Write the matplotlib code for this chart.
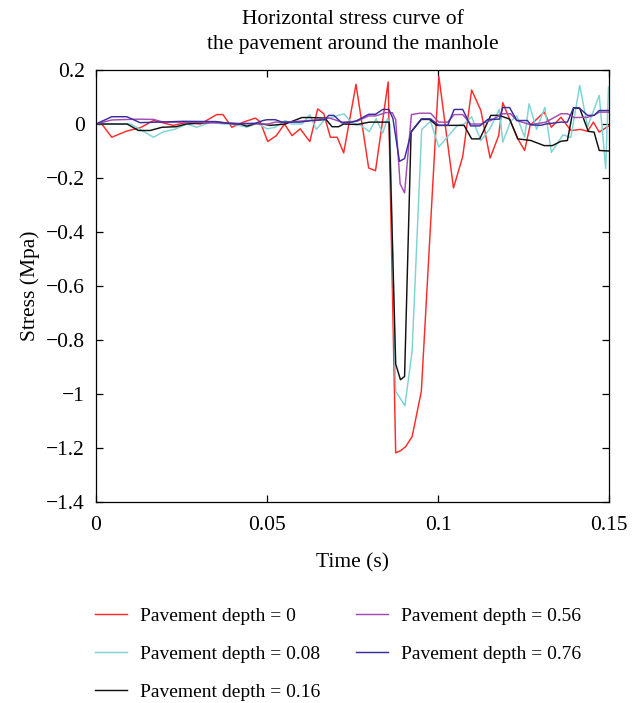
import matplotlib
matplotlib.use("Agg")
import matplotlib.pyplot as plt
from matplotlib.ticker import FuncFormatter

# ---- data (time in s, stress in MPa) ----
t_d0 = [0, 0.0017, 0.0046, 0.009, 0.0129, 0.0168, 0.0225, 0.0266, 0.0305, 0.0353,
        0.0371, 0.0397, 0.0431, 0.0466, 0.048, 0.0502, 0.0527, 0.0551, 0.0573, 0.0597,
        0.0625, 0.0648, 0.0666, 0.0685, 0.0705, 0.0724, 0.076, 0.0797, 0.0817, 0.0854,
        0.0876, 0.089, 0.0905, 0.0924, 0.0951, 0.1002, 0.1045, 0.1072, 0.1098, 0.1125,
        0.1152, 0.1177, 0.1189, 0.1233, 0.1253, 0.1269, 0.131, 0.1331, 0.1359, 0.1388,
        0.1417, 0.1437, 0.1454, 0.1471, 0.15]
s_d0 = [0, 0, -0.049, -0.026, -0.014, 0.013, -0.005, 0.006, 0.0, 0.035,
        0.035, -0.012, 0.007, 0.022, 0.008, -0.065, -0.043, 0.0, -0.043, -0.018,
        -0.065, 0.056, 0.038, -0.049, -0.049, -0.107, 0.147, -0.163, -0.173, 0.156,
        -1.218, -1.21, -1.195, -1.158, -0.99, 0.178, -0.237, -0.12, 0.126, 0.05,
        -0.126, -0.043, 0.079, -0.055, -0.098, -0.005, 0.044, -0.012, 0.025, -0.024,
        -0.02, -0.027, 0.007, -0.03, -0.006]

t_d008 = [0, 0.0102, 0.0168, 0.0197, 0.0231, 0.0266, 0.0294, 0.0334, 0.0373, 0.0401,
          0.0441, 0.0471, 0.05, 0.0524, 0.0553, 0.0573, 0.0602, 0.0625, 0.0644, 0.0669,
          0.0725, 0.0746, 0.0773, 0.0799, 0.0819, 0.0838, 0.0852, 0.0859, 0.0876, 0.0903,
          0.0924, 0.0952, 0.0978, 0.1002, 0.1056, 0.1076, 0.1098, 0.1125, 0.1152, 0.1179,
          0.1189, 0.1212, 0.123, 0.1253, 0.1266, 0.1288, 0.1312, 0.1331, 0.1365, 0.1388,
          0.1414, 0.1437, 0.1471, 0.149, 0.1498]
s_d008 = [0, 0, -0.049, -0.029, -0.019, 0.0, -0.012, 0.006, 0.0, 0.0,
          -0.012, 0.003, -0.018, -0.012, 0.013, 0.0, 0.0, 0.034, -0.02, 0.017,
          0.038, 0.007, -0.005, -0.028, 0.019, -0.034, 0.02, 0.0, -0.99, -1.043,
          -0.842, -0.02, 0.01, -0.085, -0.006, 0.0, 0.027, -0.062, -0.016, 0.055,
          -0.067, 0.01, 0.03, -0.049, 0.075, -0.02, 0.062, -0.105, -0.04, -0.05,
          0.143, -0.01, 0.106, -0.165, 0.137]

t_d016 = [0, 0.0091, 0.0124, 0.0158, 0.0193, 0.0234, 0.0264, 0.0351, 0.0422, 0.0441,
          0.0471, 0.051, 0.0553, 0.0602, 0.0625, 0.0669, 0.069, 0.0709, 0.0724, 0.0763,
          0.0799, 0.0857, 0.0876, 0.089, 0.0902, 0.0921, 0.0951, 0.0975, 0.0996, 0.1076,
          0.1098, 0.1122, 0.1154, 0.1179, 0.1209, 0.1233, 0.1271, 0.131, 0.1334, 0.1359,
          0.1378, 0.1396, 0.1414, 0.1439, 0.1456, 0.1471, 0.15]
s_d016 = [0, 0, -0.024, -0.024, -0.012, -0.01, 0.0, 0.007, 0.0, -0.008,
          0.003, -0.005, 0.0, 0.024, 0.024, 0.022, -0.01, -0.01, 0.0, -0.002,
          0.007, 0.007, -0.889, -0.947, -0.935, -0.03, 0.017, 0.017, -0.005, -0.005,
          -0.055, -0.055, 0.032, 0.032, 0.018, -0.055, -0.061, -0.08, -0.08, -0.064,
          -0.061, 0.06, 0.058, -0.027, -0.03, -0.098, -0.1]

t_d056 = [0, 0.0046, 0.0124, 0.0168, 0.0197, 0.0255, 0.0401, 0.048, 0.0504, 0.0524,
          0.0556, 0.0656, 0.068, 0.0719, 0.0763, 0.0797, 0.0817, 0.0846, 0.0866, 0.0876,
          0.0889, 0.0902, 0.0922, 0.0946, 0.0978, 0.1002, 0.1028, 0.1047, 0.1072, 0.1095,
          0.1125, 0.1154, 0.1189, 0.1212, 0.123, 0.1271, 0.1315, 0.1359, 0.1378, 0.1398,
          0.1437, 0.1456, 0.1471, 0.15]
s_d056 = [0, 0.015, 0.018, 0.017, 0.007, 0.007, 0.003, 0.0, 0.0, 0.007,
          0.007, 0.016, 0.023, 0.007, 0.01, 0.03, 0.03, 0.042, 0.042, 0.016,
          -0.222, -0.255, 0.035, 0.04, 0.04, 0.007, 0.007, 0.035, 0.035, 0.0,
          0.0, 0.013, 0.038, 0.038, 0.013, -0.003, 0.007, 0.038, 0.038, 0.024,
          0.025, 0.033, 0.044, 0.044]

t_d076 = [0, 0.0046, 0.009, 0.0129, 0.0255, 0.0351, 0.0401, 0.0466, 0.0489, 0.05,
          0.0524, 0.0544, 0.0597, 0.0625, 0.0669, 0.068, 0.0695, 0.0719, 0.0748, 0.0763,
          0.0797, 0.0817, 0.0838, 0.0856, 0.0868, 0.0887, 0.0902, 0.0922, 0.0951, 0.0978,
          0.1002, 0.1028, 0.1047, 0.1072, 0.1095, 0.1122, 0.1145, 0.1179, 0.1189, 0.1209,
          0.123, 0.1261, 0.1271, 0.13, 0.1315, 0.1359, 0.1378, 0.1396, 0.1412, 0.1437,
          0.1456, 0.1471, 0.15]
s_d076 = [0, 0.027, 0.027, 0.005, 0.01, 0.009, 0.0, 0.003, 0.013, 0.016,
          0.016, 0.007, 0.007, 0.012, 0.016, 0.032, 0.032, 0.004, 0.007, 0.013,
          0.036, 0.036, 0.054, 0.054, 0.02, -0.138, -0.128, -0.027, 0.019, 0.019,
          -0.005, -0.005, 0.054, 0.054, -0.007, -0.007, 0.017, 0.018, 0.061, 0.061,
          0.013, 0.013, -0.003, -0.005, 0.0, 0.007, 0.007, 0.06, 0.06, 0.032,
          0.032, 0.05, 0.05]

labels = ["Pavement depth = 0", "Pavement depth = 0.08", "Pavement depth = 0.16",
          "Pavement depth = 0.56", "Pavement depth = 0.76"]
colors = ["#ff2a2a", "#7fd3d3", "#111111", "#a24bb3", "#3b2d9e"]

x_ticks = [0, 0.05, 0.1, 0.15]
y_ticks = [0.2, 0, -0.2, -0.4, -0.6, -0.8, -1.0, -1.2, -1.4]

# ---- figure ----
plt.rcParams['font.family'] = ['Liberation Serif', 'DejaVu Serif']
plt.rcParams['axes.unicode_minus'] = True

fig = plt.figure(figsize=(6.41, 7.03), dpi=100)
ax = fig.add_axes([0.1498, 0.2859, 0.8005, 0.6145])

series = [(t_d0, s_d0), (t_d008, s_d008), (t_d016, s_d016), (t_d056, s_d056), (t_d076, s_d076)]
for (t, s), c, lab in zip(series, colors, labels):
    ax.plot(t, s, color=c, lw=1.05, label=lab)

ax.set_xlim(0, 0.15)
ax.set_ylim(-1.4, 0.2)
ax.set_xticks(x_ticks)
ax.set_yticks(y_ticks)

def fmt(v, pos):
    s = "%g" % round(v, 4)
    return s.replace("-", "\u2212")

ax.xaxis.set_major_formatter(FuncFormatter(fmt))
ax.yaxis.set_major_formatter(FuncFormatter(fmt))
ax.tick_params(direction='in', length=5, width=0.9, top=True, right=True,
               labelsize=15.5)
ax.tick_params(axis='x', pad=10)
ax.tick_params(axis='y', pad=8)
for sp in ax.spines.values():
    sp.set_linewidth(0.9)

ax.set_xlabel("Time (s)", fontsize=15.5, labelpad=13)
ax.set_ylabel("Stress (Mpa)", fontsize=15.5, labelpad=4)
ax.set_title("Horizontal stress curve of\nthe pavement around the manhole",
             fontsize=15.5, pad=15, linespacing=1.42)

h, l = ax.get_legend_handles_labels()
fig.legend(h, l, ncol=2, loc='upper left', bbox_to_anchor=(0.136, 0.1467),
           frameon=False, fontsize=14, handlelength=1.65, handletextpad=0.67,
           columnspacing=1.85, labelspacing=1.04, borderaxespad=0)

fig.savefig("out.png", dpi=100)
